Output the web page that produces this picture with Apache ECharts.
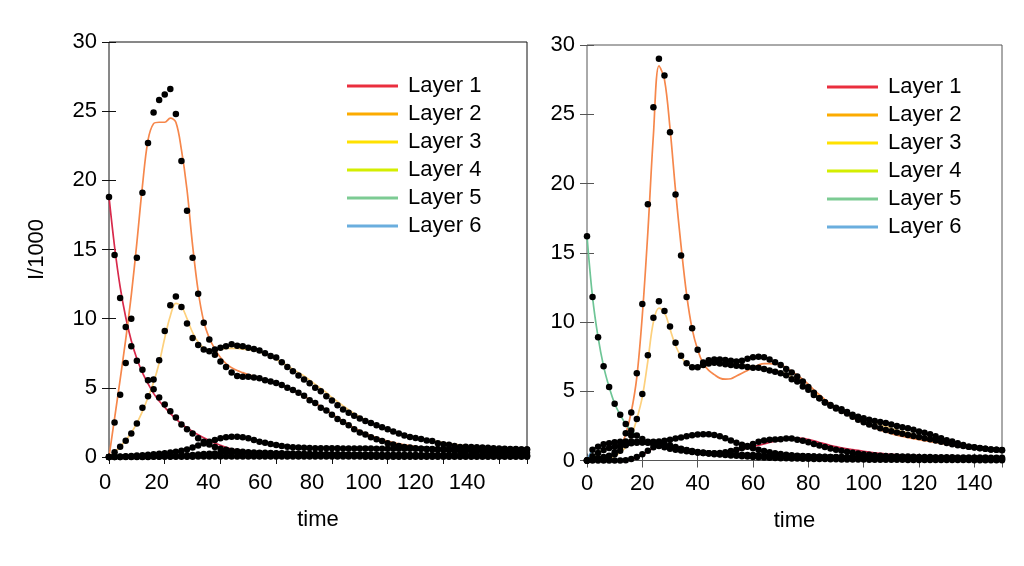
<!DOCTYPE html>
<html>
<head>
<meta charset="UTF-8">
<title>Layers</title>
<script src="https://cdn.jsdelivr.net/npm/echarts@6/dist/echarts.min.js"></script>
<style>html,body{margin:0;padding:0;background:#fff}</style>
</head>
<body>
<div id="main" style="width:1024px;height:566px"></div>
<script type="text/javascript">
var times = [0, 2, 4, 6, 8, 10, 12, 14, 16, 18,
    20, 22, 24, 26, 28, 30, 32, 34, 36, 38,
    40, 42, 44, 46, 48, 50, 52, 54, 56, 58,
    60, 62, 64, 66, 68, 70, 72, 74, 76, 78,
    80, 82, 84, 86, 88, 90, 92, 94, 96, 98,
    100, 102, 104, 106, 108, 110, 112, 114, 116, 118,
    120, 122, 124, 126, 128, 130, 132, 134, 136, 138,
    140, 142, 144, 146, 148, 150];
var layers = ['Layer 1', 'Layer 2', 'Layer 3', 'Layer 4', 'Layer 5', 'Layer 6'];
var xTicks = [0, 150, 20];
var yTicks = [0, 30, 5];

// left panel: data points
var l1Dots = [18.8, 14.6, 11.5, 9.4, 8.0, 6.95, 6.3, 5.55, 4.9, 4.3,
    3.8, 3.3, 2.85, 2.35, 2.0, 1.7, 1.35, 1.1, 0.9, 0.72,
    0.6, 0.52, 0.46, 0.42, 0.38, 0.35, 0.33, 0.31, 0.3, 0.29,
    0.28, 0.27, 0.26, 0.25, 0.24, 0.23, 0.22, 0.21, 0.2, 0.2,
    0.19, 0.19, 0.18, 0.18, 0.17, 0.17, 0.16, 0.16, 0.15, 0.15,
    0.15, 0.14, 0.14, 0.14, 0.13, 0.13, 0.13, 0.12, 0.12, 0.12,
    0.12, 0.11, 0.11, 0.11, 0.11, 0.1, 0.1, 0.1, 0.1, 0.1,
    0.09, 0.09, 0.09, 0.09, 0.09, 0.08];
var l2Dots = [0, 2.5, 4.5, 6.8, 10.0, 14.4, 19.1, 22.7, 24.9, 25.8,
    26.2, 26.6, 24.8, 21.4, 17.8, 14.4, 11.8, 9.7, 8.5, 7.4,
    6.9, 6.5, 6.1, 5.85, 5.8, 5.8, 5.75, 5.7, 5.55, 5.45,
    5.35, 5.2, 5.0, 4.85, 4.65, 4.42, 4.1, 3.9, 3.56, 3.37,
    3.06, 2.74, 2.53, 2.3, 2.0, 1.77, 1.62, 1.43, 1.28, 1.15,
    1.0, 0.9, 0.8, 0.72, 0.68, 0.64, 0.6, 0.57, 0.54, 0.52,
    0.5, 0.48, 0.46, 0.44, 0.42, 0.41, 0.4, 0.39, 0.38, 0.37,
    0.36, 0.35, 0.34, 0.33, 0.32, 0.31];
var l3Dots = [0, 0.34, 0.74, 1.17, 1.7, 2.43, 3.56, 4.4, 5.6, 7.0,
    9.1, 10.97, 11.6, 10.85, 9.65, 8.6, 8.1, 7.77, 7.65, 7.77,
    7.9, 8.0, 8.15, 8.05, 8.0, 7.9, 7.8, 7.7, 7.5, 7.3,
    7.2, 6.85, 6.5, 6.2, 5.9, 5.6, 5.34, 5.0, 4.76, 4.4,
    4.09, 3.75, 3.44, 3.2, 2.98, 2.78, 2.6, 2.45, 2.3, 2.15,
    2.0, 1.85, 1.7, 1.55, 1.45, 1.38, 1.3, 1.2, 1.15, 1.0,
    0.93, 0.88, 0.8, 0.73, 0.75, 0.72, 0.7, 0.68, 0.66, 0.64,
    0.62, 0.6, 0.58, 0.57, 0.55, 0.54];
var l4Dots = [0, 0.02, 0.04, 0.06, 0.08, 0.1, 0.13, 0.16, 0.2, 0.24,
    0.28, 0.33, 0.38, 0.46, 0.55, 0.68, 0.84, 0.98, 1.1, 1.23,
    1.35, 1.42, 1.46, 1.46, 1.42, 1.35, 1.23, 1.1, 1.03, 0.94,
    0.87, 0.8, 0.75, 0.71, 0.68, 0.66, 0.65, 0.64, 0.64, 0.63,
    0.63, 0.63, 0.62, 0.62, 0.62, 0.61, 0.61, 0.61, 0.6, 0.6,
    0.6, 0.6, 0.6, 0.59, 0.59, 0.59, 0.59, 0.58, 0.58, 0.58,
    0.58, 0.58, 0.57, 0.57, 0.57, 0.57, 0.56, 0.56, 0.56, 0.56,
    0.55, 0.55, 0.55, 0.55, 0.54, 0.54];
var l5Dots = [0, 0, 0, 0.01, 0.01, 0.01, 0.02, 0.02, 0.03, 0.04,
    0.05, 0.06, 0.08, 0.1, 0.12, 0.15, 0.18, 0.21, 0.24, 0.26,
    0.28, 0.3, 0.31, 0.31, 0.3, 0.29, 0.28, 0.27, 0.26, 0.25,
    0.24, 0.23, 0.22, 0.21, 0.21, 0.2, 0.2, 0.19, 0.19, 0.18,
    0.18, 0.18, 0.17, 0.17, 0.17, 0.16, 0.16, 0.16, 0.15, 0.15,
    0.15, 0.15, 0.14, 0.14, 0.14, 0.14, 0.13, 0.13, 0.13, 0.13,
    0.13, 0.12, 0.12, 0.12, 0.12, 0.12, 0.11, 0.11, 0.11, 0.11,
    0.11, 0.1, 0.1, 0.1, 0.1, 0.1];
var l6Dots = [0, 0, 0, 0, 0, 0, 0, 0, 0.01, 0.01,
    0.01, 0.01, 0.01, 0.02, 0.02, 0.02, 0.03, 0.03, 0.03, 0.03,
    0.04, 0.04, 0.04, 0.04, 0.04, 0.04, 0.04, 0.04, 0.04, 0.04,
    0.03, 0.03, 0.03, 0.03, 0.03, 0.03, 0.03, 0.03, 0.03, 0.03,
    0.03, 0.03, 0.03, 0.03, 0.03, 0.03, 0.02, 0.02, 0.02, 0.02,
    0.02, 0.02, 0.02, 0.02, 0.02, 0.02, 0.02, 0.02, 0.02, 0.02,
    0.02, 0.02, 0.02, 0.02, 0.02, 0.02, 0.02, 0.02, 0.02, 0.02,
    0.02, 0.02, 0.02, 0.02, 0.02, 0.02];

// left panel: model curves
var l1Line = [18.8, 15.2, 12.3, 10.1, 8.4, 7.1, 6.1, 5.3, 4.6, 4.05,
    3.6, 3.15, 2.75, 2.4, 2.1, 1.85, 1.6, 1.4, 1.18, 1.0,
    0.85, 0.7, 0.58, 0.5, 0.43, 0.38, 0.34, 0.31, 0.28, 0.26,
    0.24, 0.22, 0.21, 0.2, 0.19, 0.18, 0.17, 0.16, 0.15, 0.14,
    0.13, 0.13, 0.12, 0.12, 0.11, 0.11, 0.1, 0.1, 0.09, 0.09,
    0.09, 0.08, 0.08, 0.08, 0.07, 0.07, 0.07, 0.07, 0.06, 0.06,
    0.06, 0.06, 0.06, 0.05, 0.05, 0.05, 0.05, 0.05, 0.05, 0.04,
    0.04, 0.04, 0.04, 0.04, 0.04, 0.04];
var l2Line = [0, 2.8, 5.6, 8.5, 11.7, 15.5, 19.6, 22.9, 24.1, 24.2,
    24.2, 24.5, 24.2, 22.2, 19.3, 15.3, 12.0, 9.8, 8.6, 7.8,
    7.2, 6.75, 6.45, 6.25, 6.1, 5.95, 5.85, 5.75, 5.6, 5.5,
    5.35, 5.2, 5.0, 4.8, 4.6, 4.4, 4.15, 3.9, 3.65, 3.4,
    3.1, 2.85, 2.6, 2.35, 2.1, 1.9, 1.7, 1.55, 1.4, 1.27,
    1.15, 1.05, 0.95, 0.88, 0.82, 0.76, 0.7, 0.66, 0.62, 0.58,
    0.55, 0.52, 0.5, 0.48, 0.46, 0.44, 0.42, 0.41, 0.4, 0.39,
    0.38, 0.37, 0.36, 0.35, 0.34, 0.33];
var l3Line = [0, 0.35, 0.75, 1.2, 1.75, 2.45, 3.3, 4.3, 5.4, 6.8,
    8.6, 10.2, 11.1, 10.9, 10.0, 9.0, 8.3, 7.9, 7.75, 7.75,
    7.8, 7.85, 7.85, 7.85, 7.8, 7.75, 7.7, 7.6, 7.45, 7.25,
    7.05, 6.85, 6.6, 6.35, 6.1, 5.85, 5.55, 5.25, 4.95, 4.65,
    4.3, 4.0, 3.7, 3.4, 3.15, 2.9, 2.7, 2.5, 2.33, 2.17,
    2.02, 1.88, 1.75, 1.63, 1.52, 1.42, 1.33, 1.25, 1.17, 1.1,
    1.03, 0.97, 0.91, 0.86, 0.82, 0.78, 0.74, 0.71, 0.68, 0.65,
    0.62, 0.6, 0.58, 0.56, 0.54, 0.52];

// right panel: data points
var r1Dots = [0, 0, 0, 0, 0, 0, 0, 0.01, 0.1, 0.25,
    0.45, 0.7, 0.95, 1.1, 1.15, 1.1, 0.98, 0.85, 0.74, 0.65,
    0.58, 0.54, 0.52, 0.52, 0.55, 0.6, 0.68, 0.78, 0.9, 1.05,
    1.2, 1.35, 1.45, 1.5, 1.52, 1.53, 1.58, 1.58, 1.5, 1.42,
    1.32, 1.2, 1.08, 0.97, 0.87, 0.78, 0.7, 0.63, 0.56, 0.5,
    0.45, 0.41, 0.38, 0.35, 0.33, 0.31, 0.3, 0.29, 0.28, 0.27,
    0.26, 0.25, 0.25, 0.24, 0.24, 0.23, 0.23, 0.22, 0.22, 0.22,
    0.21, 0.21, 0.21, 0.2, 0.2, 0.2];
var r2Dots = [0, 0.1, 0.15, 0.25, 0.35, 0.6, 1.0, 1.97, 3.46, 6.3,
    11.3, 18.5, 25.5, 29.0, 27.8, 23.7, 19.2, 14.8, 11.8, 9.55,
    8.0, 7.07, 7.24, 7.3, 7.3, 7.25, 7.2, 7.14, 7.2, 7.35,
    7.45, 7.5, 7.45, 7.3, 7.1, 6.9, 6.6, 6.35, 6.06, 5.7,
    5.3, 4.9, 4.5, 4.2, 3.95, 3.75, 3.58, 3.4, 3.15, 2.95,
    2.76, 2.6, 2.45, 2.32, 2.21, 2.12, 2.03, 1.94, 1.85, 1.77,
    1.69, 1.61, 1.54, 1.44, 1.35, 1.26, 1.17, 1.1, 1.04, 1.0,
    0.96, 0.9, 0.85, 0.8, 0.77, 0.75];
var r3Dots = [0, 0.1, 0.15, 0.2, 0.3, 0.45, 0.7, 1.1, 1.8, 3.0,
    4.8, 7.6, 10.3, 11.5, 10.8, 9.67, 8.5, 7.57, 7.02, 6.73,
    6.73, 6.9, 7.0, 7.05, 7.0, 6.95, 6.9, 6.85, 6.8, 6.75,
    6.7, 6.7, 6.6, 6.5, 6.4, 6.3, 6.15, 5.87, 5.7, 5.34,
    5.1, 4.73, 4.49, 4.18, 4.0, 3.8, 3.7, 3.5, 3.3, 3.15,
    3.05, 2.95, 2.85, 2.78, 2.7, 2.6, 2.5, 2.4, 2.33, 2.22,
    2.1, 2.0, 1.9, 1.75, 1.6, 1.47, 1.37, 1.25, 1.12, 1.0,
    0.93, 0.88, 0.84, 0.8, 0.77, 0.74];
var r4Dots = [0, 0.3, 0.55, 0.75, 0.9, 1.0, 1.1, 1.18, 1.24, 1.28,
    1.3, 1.32, 1.35, 1.38, 1.42, 1.5, 1.58, 1.66, 1.75, 1.82,
    1.87, 1.9, 1.9, 1.85, 1.75, 1.6, 1.45, 1.28, 1.13, 1.0,
    0.88, 0.77, 0.68, 0.6, 0.53, 0.47, 0.42, 0.38, 0.35, 0.33,
    0.31, 0.29, 0.27, 0.26, 0.25, 0.24, 0.23, 0.22, 0.21, 0.2,
    0.2, 0.19, 0.18, 0.18, 0.17, 0.16, 0.16, 0.15, 0.15, 0.14,
    0.14, 0.13, 0.13, 0.13, 0.12, 0.12, 0.12, 0.11, 0.11, 0.11,
    0.1, 0.1, 0.1, 0.1, 0.1, 0.09];
var r5Dots = [16.2, 11.8, 8.9, 6.8, 5.3, 4.1, 3.3, 2.64, 2.16, 1.8,
    1.55, 1.35, 1.2, 1.05, 0.95, 0.85, 0.78, 0.72, 0.66, 0.62,
    0.58, 0.54, 0.5, 0.46, 0.43, 0.4, 0.37, 0.34, 0.31, 0.28,
    0.26, 0.24, 0.22, 0.2, 0.18, 0.17, 0.16, 0.15, 0.14, 0.13,
    0.12, 0.11, 0.1, 0.1, 0.09, 0.09, 0.08, 0.08, 0.07, 0.07,
    0.07, 0.06, 0.06, 0.06, 0.05, 0.05, 0.05, 0.05, 0.04, 0.04,
    0.04, 0.04, 0.04, 0.03, 0.03, 0.03, 0.03, 0.03, 0.03, 0.03,
    0.02, 0.02, 0.02, 0.02, 0.02, 0.02];
var r6Dots = [0, 0.77, 1.0, 1.17, 1.24, 1.32, 1.36, 1.37, 1.37, 1.35,
    1.32, 1.28, 1.22, 1.15, 1.07, 0.98, 0.9, 0.82, 0.75, 0.68,
    0.62, 0.57, 0.53, 0.5, 0.47, 0.45, 0.43, 0.42, 0.41, 0.4,
    0.39, 0.38, 0.37, 0.36, 0.35, 0.34, 0.33, 0.32, 0.31, 0.3,
    0.29, 0.28, 0.27, 0.27, 0.26, 0.25, 0.25, 0.24, 0.23, 0.23,
    0.22, 0.22, 0.21, 0.21, 0.2, 0.2, 0.2, 0.19, 0.19, 0.19,
    0.18, 0.18, 0.18, 0.17, 0.17, 0.17, 0.17, 0.16, 0.16, 0.16,
    0.16, 0.15, 0.15, 0.15, 0.15, 0.15];

// right panel: model curves
var r1Line = [0, 0, 0, 0, 0, 0, 0, 0, 0.05, 0.2,
    0.4, 0.65, 0.9, 1.1, 1.15, 1.1, 1.0, 0.9, 0.8, 0.7,
    0.62, 0.57, 0.54, 0.53, 0.53, 0.56, 0.62, 0.7, 0.8, 0.9,
    1.0, 1.1, 1.2, 1.3, 1.4, 1.47, 1.55, 1.6, 1.62, 1.6,
    1.52, 1.42, 1.3, 1.2, 1.08, 1.0, 0.92, 0.85, 0.79, 0.73,
    0.67, 0.61, 0.56, 0.51, 0.47, 0.44, 0.41, 0.38, 0.36, 0.35,
    0.34, 0.33, 0.32, 0.31, 0.31, 0.3, 0.3, 0.29, 0.29, 0.29,
    0.28, 0.28, 0.28, 0.27, 0.27, 0.27];
var r2Line = [0, 0.05, 0.1, 0.17, 0.3, 0.5, 0.95, 1.9, 3.5, 6.0,
    10.5, 16.5, 23.5, 28.5, 27.5, 24.0, 19.5, 15.5, 12.0, 9.5,
    8.0, 7.0, 6.5, 6.2, 5.95, 5.87, 5.9, 6.1, 6.3, 6.5,
    6.7, 6.9, 7.0, 7.0, 6.95, 6.9, 6.7, 6.45, 6.15, 5.85,
    5.5, 5.1, 4.75, 4.4, 4.1, 3.85, 3.6, 3.35, 3.1, 2.88,
    2.7, 2.53, 2.37, 2.2, 2.07, 1.95, 1.83, 1.74, 1.66, 1.58,
    1.5, 1.43, 1.36, 1.3, 1.24, 1.17, 1.1, 1.03, 0.97, 0.91,
    0.86, 0.82, 0.79, 0.76, 0.74, 0.72];
var r3Line = [0, 0.02, 0.05, 0.1, 0.18, 0.3, 0.6, 0.95, 1.75, 3.0,
    4.6, 7.2, 10.0, 11.0, 10.7, 9.5, 8.3, 7.5, 7.0, 6.8,
    6.75, 6.8, 6.9, 7.0, 7.05, 7.05, 7.0, 6.95, 6.9, 6.85,
    6.8, 6.75, 6.7, 6.6, 6.5, 6.4, 6.25, 6.05, 5.85, 5.55,
    5.25, 4.95, 4.62, 4.3, 3.95, 3.7, 3.5, 3.3, 3.15, 3.05,
    2.98, 2.85, 2.72, 2.58, 2.45, 2.33, 2.2, 2.1, 2.0, 1.9,
    1.75, 1.68, 1.62, 1.55, 1.49, 1.43, 1.37, 1.28, 1.2, 1.1,
    1.02, 0.96, 0.9, 0.85, 0.8, 0.77];

var legendColors = ['#ea2e3e', '#fcab00', '#ffe100', '#d4ee00', '#7ccb93', '#6aaede'];
var lineColors = ['#d8294b', '#f6874b', '#fdd07c', '#cfe44a', '#6ec596', '#67a9dc'];

var leftLines = [l1Line, l2Line, l3Line, l4Dots, l5Dots, l6Dots];
var leftDots = [l1Dots, l2Dots, l3Dots, l4Dots, l5Dots, l6Dots];
var rightLines = [r1Line, r2Line, r3Line, r4Dots, r5Dots, r6Dots];
var rightDots = [r1Dots, r2Dots, r3Dots, r4Dots, r5Dots, r6Dots];

var font = 'Liberation Sans, Arial, Helvetica, sans-serif';

function pairs(vals) {
    return times.map(function (t, i) { return [t, vals[i]]; });
}

function xAxis(grid, pos, showLabel, color, name, gap, margin) {
    return {
        type: 'value', gridIndex: grid, position: pos,
        min: xTicks[0], max: xTicks[1], interval: xTicks[2],
        axisLine: { show: false },
        axisTick: { show: true, inside: true, length: 7, lineStyle: { color: color, width: 1 } },
        axisLabel: { show: showLabel, fontSize: 22, color: '#000', fontFamily: font, margin: margin || 12, showMaxLabel: false },
        splitLine: { show: false },
        name: name || '', nameLocation: 'middle', nameGap: gap || 48,
        nameTextStyle: { fontSize: 22, color: '#000', fontFamily: font }
    };
}

function yAxis(grid, pos, showLabel, color, name) {
    return {
        type: 'value', gridIndex: grid, position: pos,
        min: yTicks[0], max: yTicks[1], interval: yTicks[2],
        axisLine: { show: false },
        axisTick: { show: true, inside: true, length: 7, lineStyle: { color: color, width: 1 } },
        axisLabel: { show: showLabel, fontSize: 22, color: '#000', fontFamily: font, margin: 12 },
        splitLine: { show: false },
        name: name || '', nameLocation: 'middle', nameGap: 61,
        nameTextStyle: { fontSize: 22, color: '#000', fontFamily: font }
    };
}

function legend(left, top) {
    return {
        orient: 'vertical', left: left, top: top,
        icon: 'rect', itemWidth: 51, itemHeight: 3, itemGap: 6,
        selectedMode: false,
        textStyle: { fontSize: 22, color: '#000', fontFamily: font, lineHeight: 22, padding: [0, 0, 0, 5] },
        data: layers.map(function (n, i) {
            return { name: n, itemStyle: { color: legendColors[i] } };
        })
    };
}

var series = [];
function addPanel(lines, dots, axis) {
    lines.forEach(function (vals, i) {
        series.push({
            name: layers[i], type: 'line', xAxisIndex: axis, yAxisIndex: axis,
            data: pairs(vals), smooth: 0.35, showSymbol: false, symbol: 'none',
            lineStyle: { color: lineColors[i], width: 1.7 }, itemStyle: { color: lineColors[i] },
            z: 2, silent: true
        });
    });
    dots.forEach(function (vals, i) {
        series.push({
            name: 'data ' + (i + 1), type: 'scatter', xAxisIndex: axis, yAxisIndex: axis,
            data: pairs(vals), symbolSize: 6.5,
            itemStyle: { color: '#000', opacity: 1 }, z: 3, silent: true
        });
    });
}
addPanel(leftLines, leftDots, 0);
addPanel(rightLines, rightDots, 2);

var myChart = echarts.init(document.getElementById('main'));
var option = {
    animation: false,
    backgroundColor: '#fff',
    grid: [
        { left: 109, right: 497, top: 42, bottom: 109, show: true, borderColor: '#111', borderWidth: 1 },
        { left: 587, right: 22, top: 45, bottom: 105.5, show: true, borderColor: '#555', borderWidth: 1 },
        // tick labels of the left panel sit on a narrower scale than its ticks
        { left: 105, right: 531, top: 42, bottom: 109, show: false }
    ],
    xAxis: [
        xAxis(0, 'bottom', false, '#111', 'time', 52),
        xAxis(0, 'top', false, '#111'),
        xAxis(1, 'bottom', true, '#555', 'time', 49),
        xAxis(1, 'top', false, '#555'),
        Object.assign(xAxis(2, 'bottom', true, '#111', '', 48, 15), { axisTick: { show: false } })
    ],
    yAxis: [
        yAxis(0, 'left', true, '#111', 'I/1000'),
        yAxis(0, 'right', false, '#111'),
        yAxis(1, 'left', true, '#555'),
        yAxis(1, 'right', false, '#555'),
        { type: 'value', gridIndex: 2, show: false, min: yTicks[0], max: yTicks[1] }
    ],
    legend: [legend(342, 70), legend(822, 71)],
    series: series
};
myChart.setOption(option);
</script>
</body>
</html>
